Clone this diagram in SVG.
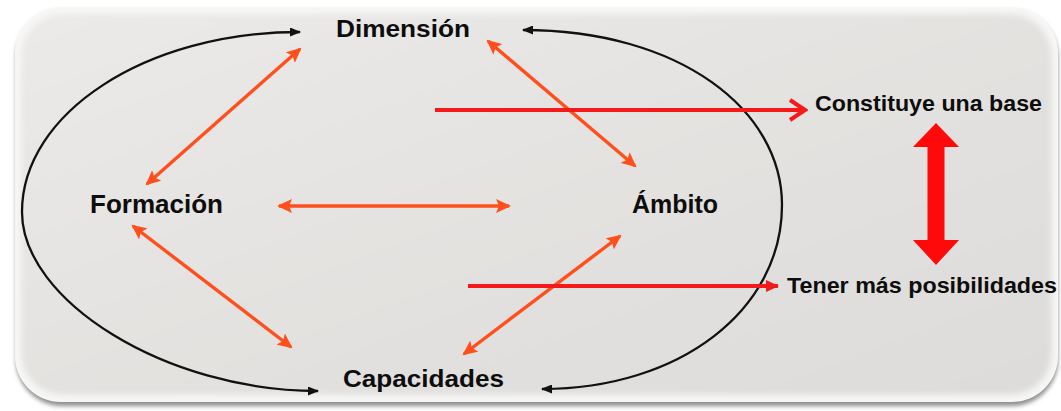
<svg xmlns="http://www.w3.org/2000/svg" width="1061" height="411" viewBox="0 0 1061 411">
<style>
.lbl{font-family:"Liberation Sans",Arial,sans-serif;font-weight:bold;fill:#0d0d0d}
.orange{stroke:#ff4f1c;stroke-width:3.4;fill:none}
.red{stroke:#f51a1a;stroke-width:4;fill:none}
.curve{stroke:#111;stroke-width:2.3;fill:none}
</style>
<defs>
<linearGradient id="bg" x1="0" y1="0" x2="1" y2="1">
<stop offset="0" stop-color="#ebeae8"/>
<stop offset="0.5" stop-color="#e3e2e0"/>
<stop offset="1" stop-color="#dddcda"/>
</linearGradient>
<filter id="blur2" x="-5%" y="-5%" width="110%" height="110%"><feGaussianBlur stdDeviation="2"/></filter>
<filter id="blur4" x="-5%" y="-5%" width="110%" height="110%"><feGaussianBlur stdDeviation="3"/></filter>
<marker id="oh" markerUnits="userSpaceOnUse" markerWidth="16" markerHeight="14" refX="13" refY="7" orient="auto-start-reverse">
<path d="M0,0 L15,7 L0,14 L3,7 z" fill="#ff4f1c"/>
</marker>
<marker id="bh" markerUnits="userSpaceOnUse" markerWidth="11" markerHeight="9" refX="10" refY="4.5" orient="auto-start-reverse">
<path d="M0,0 L11,4.5 L0,9 z" fill="#111"/>
</marker>
<marker id="rc" markerUnits="userSpaceOnUse" markerWidth="20" markerHeight="26" refX="17" refY="13" orient="auto">
<path d="M2,3 L17,13 L2,23" fill="none" stroke="#f51a1a" stroke-width="4"/>
</marker>
<marker id="rf" markerUnits="userSpaceOnUse" markerWidth="14" markerHeight="12" refX="12" refY="6" orient="auto">
<path d="M0,0 L13,6 L0,12 z" fill="#f51a1a"/>
</marker>
</defs>

<g id="background">
<rect x="0" y="0" width="1061" height="411" fill="#ffffff"/>
<rect x="16" y="11" width="1042" height="395" rx="46" fill="#8f8f8f" filter="url(#blur2)"/>
<rect x="15" y="7" width="1043" height="395" rx="46" fill="#f7f7f6"/>
<rect x="21" y="14" width="1031" height="381" rx="42" fill="url(#bg)" filter="url(#blur4)"/>
</g>

<g id="connectors">
<path class="curve" d="M300,32 C146,32 22,113 22,212 C22,300 165,391 318,391" marker-start="url(#bh)" marker-end="url(#bh)"/>
<path class="curve" d="M523,30 C680,30 782,110 782,205 C782,310 680,389 542,389" marker-start="url(#bh)" marker-end="url(#bh)"/>
<line class="orange" x1="300" y1="49" x2="147" y2="184" marker-start="url(#oh)" marker-end="url(#oh)"/>
<line class="orange" x1="133" y1="226" x2="291" y2="347" marker-start="url(#oh)" marker-end="url(#oh)"/>
<line class="orange" x1="279" y1="206" x2="509" y2="206" marker-start="url(#oh)" marker-end="url(#oh)"/>
<line class="orange" x1="488" y1="41" x2="635" y2="166" marker-start="url(#oh)" marker-end="url(#oh)"/>
<line class="orange" x1="620" y1="236" x2="464" y2="354" marker-start="url(#oh)" marker-end="url(#oh)"/>
<line class="red" x1="435" y1="110" x2="805" y2="110" marker-end="url(#rc)"/>
<line class="red" x1="468" y1="286" x2="778" y2="286" marker-end="url(#rf)"/>
<polygon id="big-arrow" points="936,123 959,147 944.5,147 944.5,240 959,240 936,265 913,240 927.5,240 927.5,147 913,147" fill="#ff0a0a"/>
</g>

<g id="dimension"><text class="lbl" x="336" y="37" font-size="23.5" textLength="134" lengthAdjust="spacingAndGlyphs">Dimensión</text></g>
<g id="formacion"><text class="lbl" x="90" y="213" font-size="25.5" textLength="133" lengthAdjust="spacingAndGlyphs">Formación</text></g>
<g id="ambito"><text class="lbl" x="632" y="213" font-size="25.5" textLength="86" lengthAdjust="spacingAndGlyphs">Ámbito</text></g>
<g id="capacidades"><text class="lbl" x="343" y="387" font-size="24.5" textLength="161" lengthAdjust="spacingAndGlyphs">Capacidades</text></g>
<g id="constituye"><text class="lbl" x="815" y="111" font-size="22" textLength="227" lengthAdjust="spacingAndGlyphs">Constituye una base</text></g>
<g id="tener"><text class="lbl" x="787" y="293" font-size="22" textLength="270" lengthAdjust="spacingAndGlyphs">Tener más posibilidades</text></g>
</svg>
